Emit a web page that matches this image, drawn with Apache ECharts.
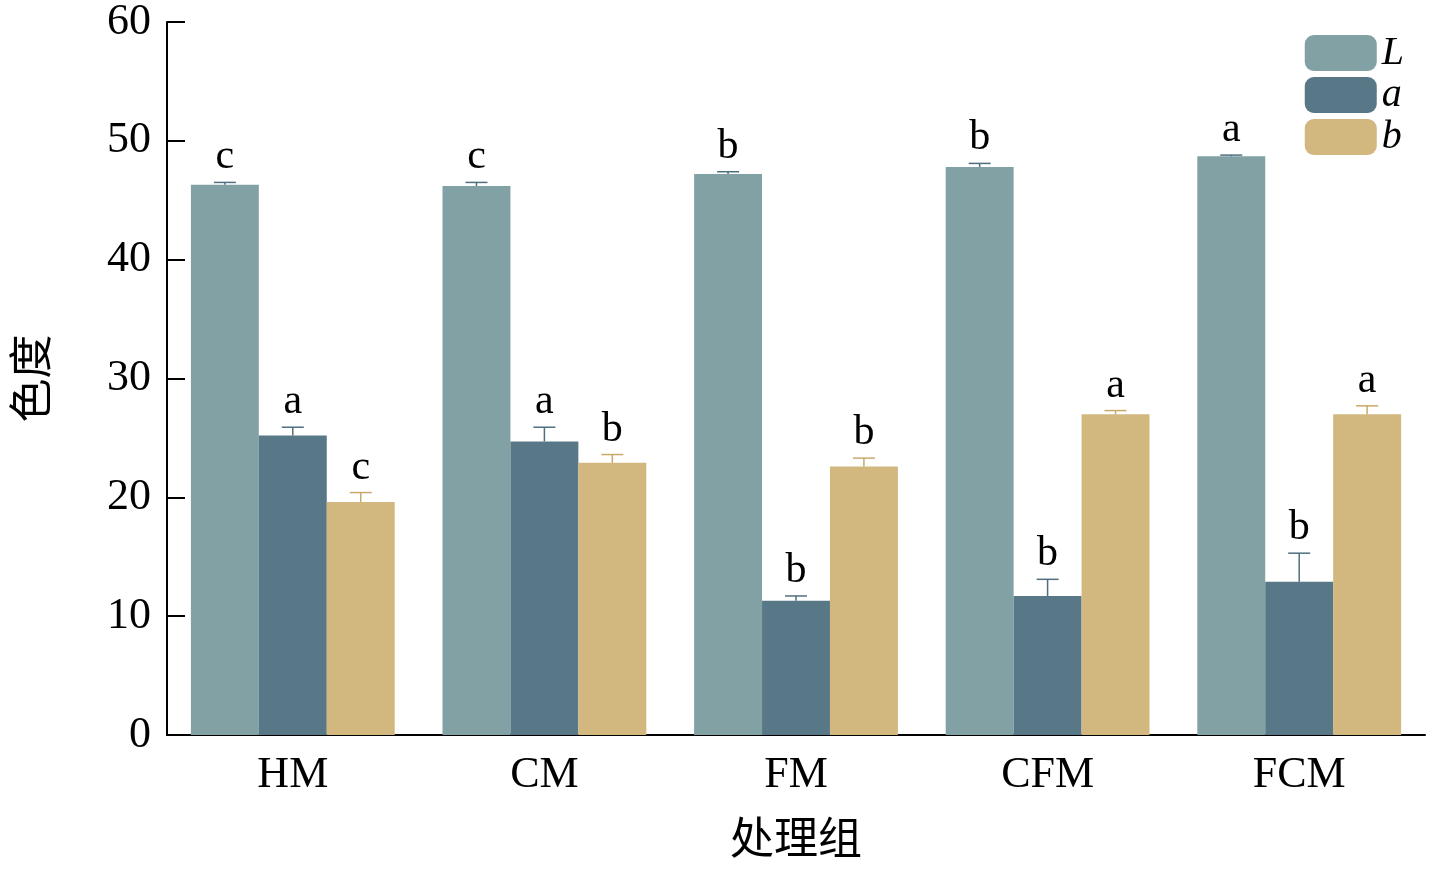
<!DOCTYPE html>
<html><head><meta charset="utf-8">
<script src="https://cdn.jsdelivr.net/npm/echarts@6/dist/echarts.min.js"></script>
<style>html,body{margin:0;background:#fff}#c{width:1429px;height:879px}</style>
</head><body><div id="c"></div>
<script>
var categories = ['HM', 'CM', 'FM', 'CFM', 'FCM'];
var seriesNames = ['L', 'a', 'b'];
var valL = [46.3, 46.2, 47.2, 47.8, 48.7];
var valA = [25.2, 24.7, 11.3, 11.7, 12.9];
var valB = [19.6, 22.9, 22.6, 27.0, 27.0];
var errL = [0.2, 0.3, 0.2, 0.3, 0.1];
var errA = [0.7, 1.2, 0.4, 1.4, 2.4];
var errB = [0.8, 0.7, 0.7, 0.3, 0.7];
var letL = ['c', 'c', 'b', 'b', 'a'];
var letA = ['a', 'a', 'b', 'b', 'b'];
var letB = ['c', 'b', 'b', 'a', 'a'];
var yTicks = [0, 10, 20, 30, 40, 50, 60];

var colors = ['#82a1a5', '#597887', '#d2b77f'];
var vals = [valL, valA, valB], errs = [errL, errA, errB], lets = [letL, letA, letB];
var gapRatio = 0.19;

var errData = [];
for (var s = 0; s < 3; s++) {
    for (var i = 0; i < categories.length; i++) {
        errData.push([i, s, vals[s][i], errs[s][i], lets[s][i]]);
    }
}

var font = '"Liberation Serif", "DejaVu Serif", "Noto Sans CJK SC", serif';
var chart = echarts.init(document.getElementById('c'));

var series = seriesNames.map(function (n, s) {
    return {
        name: n, type: 'bar', data: vals[s], barGap: '0%', barCategoryGap: (gapRatio * 100) + '%',
        itemStyle: { color: colors[s] }
    };
});
series.push({
    type: 'custom', data: errData, z: 5, silent: true,
    renderItem: function (params, api) {
        var ci = api.value(0), si = api.value(1), v = api.value(2), e = api.value(3);
        var bw = api.size([1, 0])[0] * (1 - gapRatio) / 3;
        var base = api.coord([ci, v]);
        var x = base[0] + (si - 1) * bw;
        var top = api.coord([ci, v + e])[1];
        var col = si == 2 ? '#c9a96a' : '#4f6f7e';
        return {
            type: 'group', children: [
                { type: 'line', shape: { x1: x, y1: base[1], x2: x, y2: top }, style: { stroke: col, lineWidth: 1.5 } },
                { type: 'line', shape: { x1: x - 11, y1: top, x2: x + 11, y2: top }, style: { stroke: col, lineWidth: 1.5 } },
                { type: 'text', x: x, y: top - 4, style: { text: errData[params.dataIndex][4], fontSize: 42, fontFamily: font, fill: '#000', align: 'center', verticalAlign: 'bottom' } }
            ]
        };
    }
});

var option = {
    animation: false,
    textStyle: { fontFamily: font },
    grid: { left: 165, right: 4, top: 22, bottom: 144 },
    legend: {
        data: seriesNames, orient: 'vertical', right: 20, top: 28,
        itemWidth: 72, itemHeight: 36, itemGap: 2,
        textStyle: { fontSize: 40, fontStyle: 'italic', fontFamily: font, color: '#000' }
    },
    xAxis: {
        type: 'category', data: categories,
        name: '处理组', nameLocation: 'middle', nameGap: 80,
        nameTextStyle: { fontSize: 44, fontFamily: '"Noto Sans CJK SC"', color: '#000' },
        axisLine: { lineStyle: { color: '#000', width: 2 } },
        axisTick: { show: false },
        axisLabel: { fontSize: 44, color: '#000', margin: 18, fontFamily: font }
    },
    yAxis: {
        type: 'value', min: 0, max: 60, interval: 10,
        name: '色度', nameLocation: 'middle', nameGap: 115,
        nameTextStyle: { fontSize: 44, fontFamily: '"Noto Sans CJK SC"', color: '#000' },
        axisLine: { show: true, lineStyle: { color: '#000', width: 2 } },
        axisTick: { show: true, inside: true, length: 18, lineStyle: { color: '#000', width: 2 } },
        splitLine: { show: false },
        axisLabel: {
            fontSize: 44, color: '#000', margin: 16, fontFamily: font,
            formatter: function (v) { return yTicks.indexOf(v) >= 0 ? String(v) : ''; }
        }
    },
    series: series
};
chart.setOption(option);
</script>
</body></html>
